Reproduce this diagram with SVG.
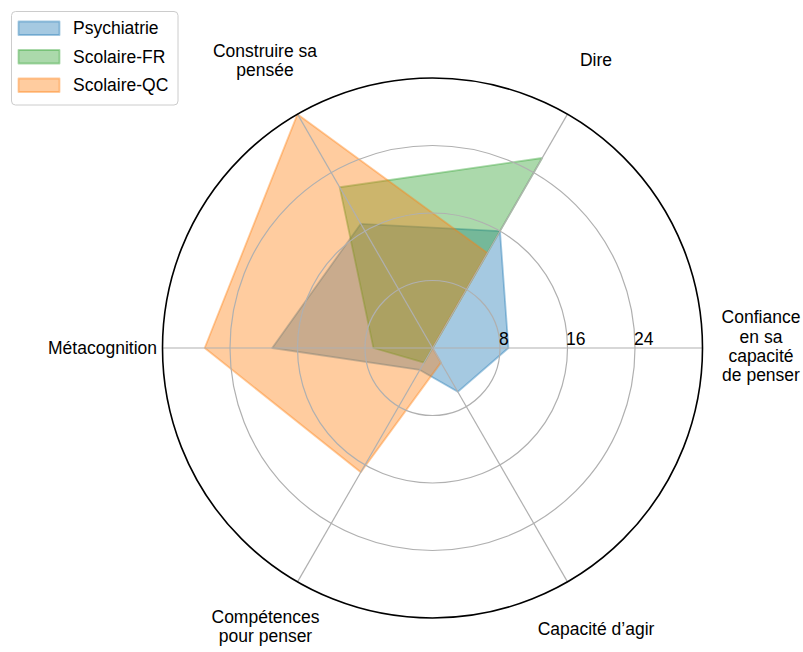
<svg xmlns="http://www.w3.org/2000/svg" width="803" height="652" viewBox="0 0 803 652">
<style>
text{font-family:"Liberation Sans",Arial,sans-serif;font-size:17.5px;fill:#000}
.grid{fill:none;stroke:#b0b0b0;stroke-width:1.2}
.ps{fill:#1f77b4;stroke:#1f77b4;fill-opacity:0.4;stroke-opacity:0.4;stroke-width:1.8;stroke-linejoin:round}
.fr{fill:#2ca02c;stroke:#2ca02c;fill-opacity:0.4;stroke-opacity:0.4;stroke-width:1.8;stroke-linejoin:round}
.qc{fill:#ff7f0e;stroke:#ff7f0e;fill-opacity:0.4;stroke-opacity:0.4;stroke-width:1.8;stroke-linejoin:round}
.mid{text-anchor:middle}
</style>
<rect width="803" height="652" fill="#fff"/>
<g id="series">
<polygon id="psychiatrie" class="ps" points="508.44,348 500,231.09 360.78,223.78 272.19,348 419.84,369.92 457.81,391.84"/>
<polygon id="scolaire-fr" class="fr" points="432.5,348 542.19,158.01 339.69,187.24 373.44,348 424.06,362.61 432.5,348"/>
<polygon id="scolaire-qc" class="qc" points="432.5,348 487.34,253.01 297.5,114.17 204.69,348 360.78,472.22 440.94,362.61"/>
</g>
<g id="grid">
<circle class="grid" cx="432.5" cy="348" r="67.5"/>
<circle class="grid" cx="432.5" cy="348" r="135"/>
<circle class="grid" cx="432.5" cy="348" r="202.5"/>
<line class="grid" x1="432.5" y1="348" x2="702.5" y2="348"/>
<line class="grid" x1="432.5" y1="348" x2="567.5" y2="114.17"/>
<line class="grid" x1="432.5" y1="348" x2="297.5" y2="114.17"/>
<line class="grid" x1="432.5" y1="348" x2="162.5" y2="348"/>
<line class="grid" x1="432.5" y1="348" x2="297.5" y2="581.83"/>
<line class="grid" x1="432.5" y1="348" x2="567.5" y2="581.83"/>
</g>
<circle id="spine" cx="432.5" cy="348" r="270" fill="none" stroke="#000" stroke-width="1.6"/>
<g id="ticks">
<text x="499" y="345">8</text>
<text x="566" y="345">16</text>
<text x="634" y="345">24</text>
</g>
<g id="labels">
<text class="mid" x="761" y="323">Confiance</text>
<text class="mid" x="761" y="343">en sa</text>
<text class="mid" x="761" y="362">capacité</text>
<text class="mid" x="761" y="381">de penser</text>
<text class="mid" x="596" y="66">Dire</text>
<text class="mid" x="265" y="57">Construire sa</text>
<text class="mid" x="265" y="76">pensée</text>
<text x="157" y="354" text-anchor="end">Métacognition</text>
<text class="mid" x="265.5" y="623">Compétences</text>
<text class="mid" x="265.5" y="642">pour penser</text>
<text class="mid" x="596" y="635">Capacité d’agir</text>
</g>
<g id="legend">
<rect x="11.5" y="11.5" width="166.5" height="93.5" rx="4" fill="#fff" fill-opacity="0.8" stroke="#cccccc" stroke-width="1"/>
<rect class="ps" x="18.5" y="21.5" width="41" height="13.5"/>
<rect class="fr" x="18.5" y="50" width="41" height="13.5"/>
<rect class="qc" x="18.5" y="78.5" width="41" height="13.5"/>
<text x="73" y="34">Psychiatrie</text>
<text x="73" y="63">Scolaire-FR</text>
<text x="73" y="91">Scolaire-QC</text>
</g>
</svg>
